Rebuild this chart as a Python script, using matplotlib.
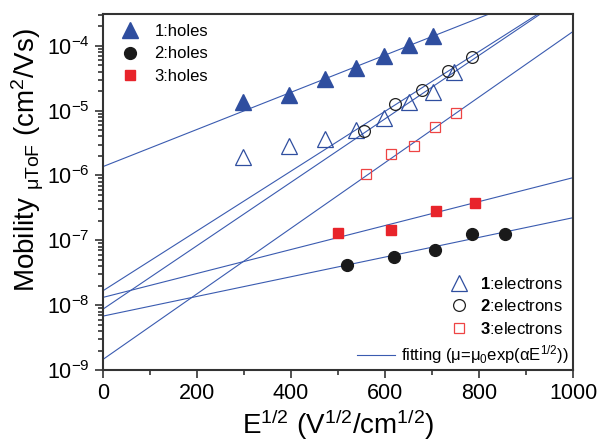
import numpy as np
import matplotlib.pyplot as plt

plt.rcParams['font.family'] = ['Liberation Sans', 'DejaVu Sans']
plt.rcParams['mathtext.fontset'] = 'custom'
plt.rcParams['mathtext.rm'] = 'Liberation Sans'
plt.rcParams['mathtext.it'] = 'Liberation Sans:italic'
plt.rcParams['mathtext.bf'] = 'Liberation Sans:bold'

# E^1/2 (V^1/2/cm^1/2) and mobility (cm2/Vs)
h1_x = [298, 395, 472, 538, 597, 650, 701]
h1_y = [1.38e-5, 1.71e-5, 3.1e-5, 4.5e-5, 7.0e-5, 1.01e-4, 1.39e-4]
h2_x = [519, 620, 707, 784, 856]
h2_y = [4.17e-8, 5.48e-8, 7.2e-8, 1.24e-7, 1.26e-7]
h3_x = [501, 613, 708, 791]
h3_y = [1.31e-7, 1.44e-7, 2.84e-7, 3.73e-7]

e1_x = [298, 395, 472, 538, 597, 650, 701, 746]
e1_y = [1.96e-6, 2.89e-6, 3.63e-6, 5.06e-6, 7.66e-6, 1.38e-5, 1.97e-5, 4.0e-5]
e2_x = [556, 621, 679, 733, 785]
e2_y = [4.9e-6, 1.27e-5, 2.1e-5, 4.1e-5, 6.7e-5]
e3_x = [560, 613, 662, 707, 750]
e3_y = [1.06e-6, 2.15e-6, 2.86e-6, 5.56e-6, 9.1e-6]

# fit parameters mu0, alpha for h1, h2, h3, e1, e2, e3
fit_mu0 = [1.37e-6, 6.8e-9, 1.32e-8, 1.67e-8, 8.7e-9, 1.46e-9]
fit_alpha = [0.006595, 0.003493, 0.004251, 0.010617, 0.01126, 0.011642]

blue = '#2f4e9f'
line_blue = '#3a5bb0'
red = '#e8242b'

fig = plt.figure(figsize=(6.02, 4.47), dpi=100)
ax = fig.add_axes([0.171, 0.172, 0.781, 0.797])

xf = np.linspace(0, 1000, 200)
for m0, a in zip(fit_mu0, fit_alpha):
    ax.plot(xf, m0 * np.exp(a * xf), color=line_blue, lw=0.8, zorder=1)
fitline, = ax.plot([], [], color=line_blue, lw=0.8)

p1, = ax.plot(h1_x, h1_y, '^', color=blue, ms=11, ls='none', zorder=3)
p2, = ax.plot(h2_x, h2_y, 'o', color='#1a1a1a', ms=8.5, ls='none', zorder=3)
p3, = ax.plot(h3_x, h3_y, 's', color=red, ms=7.5, ls='none', zorder=3)

o1, = ax.plot(e1_x, e1_y, '^', mfc='none', mec=blue, mew=0.9, ms=11, ls='none', zorder=3)
o2, = ax.plot(e2_x, e2_y, 'o', mfc='none', mec='#222222', mew=0.9, ms=8.5, ls='none', zorder=3)
o3, = ax.plot(e3_x, e3_y, 's', mfc='none', mec='#ee4444', mew=0.9, ms=7.5, ls='none', zorder=3)

ax.set_yscale('log')
ax.set_xlim(0, 1000)
ax.set_ylim(1e-9, 3.1e-4)
ax.set_xticks([0, 200, 400, 600, 800, 1000])
ax.set_xticks([100, 300, 500, 700, 900], minor=True)
ax.tick_params(which='both', direction='out', labelsize=15.5, width=1.2, color='#333333')
ax.tick_params(which='major', length=6)
ax.tick_params(which='minor', length=3.5)
for s in ax.spines.values():
    s.set_linewidth(1.5)
    s.set_color('#333333')

ax.set_xlabel('E$^{1/2}$ (V$^{1/2}$/cm$^{1/2}$)', fontsize=20, labelpad=2)
ax.set_ylabel(r'Mobility $_{\mathrm{μToF}}$ (cm$^2$/Vs)', fontsize=20)
ax.yaxis.set_label_coords(-0.122, 0.59)

leg1 = ax.legend([p1, p2, p3], ['1:holes', '2:holes', '3:holes'], loc='upper left',
                 frameon=False, fontsize=12, handletextpad=0.5, labelspacing=0.45,
                 borderaxespad=0.2)
ax.add_artist(leg1)
leg2 = ax.legend([o1, o2, o3], [r'$\mathbf{1}$:electrons', r'$\mathbf{2}$:electrons',
                                r'$\mathbf{3}$:electrons'],
                 loc='lower right', bbox_to_anchor=(1.0, 0.066), frameon=False,
                 fontsize=12, handletextpad=0.3, labelspacing=0.38, borderaxespad=0.2)
ax.add_artist(leg2)
ax.legend([fitline], ['fitting (μ=μ$_0$exp(αE$^{1/2}$))'], loc='lower right',
          frameon=False, fontsize=12, handlelength=2.3, handletextpad=0.35,
          borderpad=0.1, borderaxespad=0.15)

fig.savefig('out.png', dpi=100)
